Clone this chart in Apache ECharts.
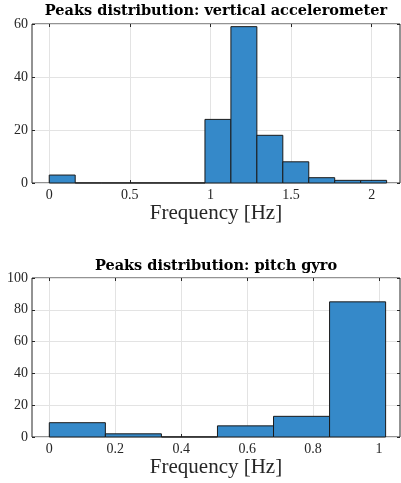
<!DOCTYPE html>
<html>
<head>
<meta charset="utf-8">
<script src="https://cdn.jsdelivr.net/npm/echarts@6/dist/echarts.min.js"></script>
<style>
  html, body { margin: 0; padding: 0; background: #fff; }
  #chart { width: 401px; height: 483px; }
</style>
</head>
<body>
<div id="chart"></div>
<script>
// vertical accelerometer histogram: bin edges and counts
const accelEdges = [0, 0.161, 0.322, 0.483, 0.644, 0.805, 0.966, 1.127, 1.288, 1.449, 1.61, 1.771, 1.932, 2.093];
const accelCounts = [3, 0, 0, 0, 0, 0, 24, 59, 18, 8, 2, 1, 1];
const accelTicks = [0, 0.5, 1, 1.5, 2];

// pitch gyro histogram
const gyroEdges = [0, 0.17, 0.34, 0.51, 0.68, 0.85, 1.02];
const gyroCounts = [9, 2, 0, 7, 13, 85];
const gyroTicks = [0, 0.2, 0.4, 0.6, 0.8, 1];

const titles = ['Peaks distribution: vertical accelerometer', 'Peaks distribution: pitch gyro'];
const xName = 'Frequency [Hz]';

function bins(edges, counts) {
  return counts.map((c, i) => [edges[i], edges[i + 1], c]);
}

function renderBar(params, api) {
  const top = api.coord([api.value(0), api.value(2)]);
  const bot = api.coord([api.value(1), 0]);
  return {
    type: 'rect',
    shape: { x: top[0], y: top[1], width: bot[0] - top[0], height: bot[1] - top[1] },
    style: { fill: '#3589c9', stroke: '#1a1a1a', lineWidth: 1 }
  };
}

const ink = '#262626';
const serif = 'Liberation Serif';

function bottomAxis(grid, min, max, ticks) {
  return {
    type: 'value', gridIndex: grid, position: 'bottom', min: min, max: max,
    axisLine: { show: false, onZero: false },
    axisTick: { show: true, inside: true, length: 3, customValues: ticks, lineStyle: { color: ink } },
    axisLabel: { customValues: ticks, margin: 5, color: ink, fontFamily: serif, fontSize: 14, formatter: v => String(v) },
    splitLine: { show: true, lineStyle: { color: '#e3e3e3', width: 1 } },
    name: xName, nameLocation: 'middle', nameGap: 20,
    nameTextStyle: { fontFamily: serif, fontSize: 21, color: ink }
  };
}
function topAxis(grid, min, max, ticks) {
  return {
    type: 'value', gridIndex: grid, position: 'top', min: min, max: max,
    axisLine: { show: false, onZero: false },
    axisTick: { show: true, inside: true, length: 3, customValues: ticks, lineStyle: { color: ink } },
    axisLabel: { show: false, customValues: ticks },
    splitLine: { show: false }
  };
}
function leftAxis(grid, max) {
  return {
    type: 'value', gridIndex: grid, position: 'left', min: 0, max: max, interval: 20,
    axisLine: { show: false, onZero: false },
    axisTick: { show: true, inside: true, length: 3, lineStyle: { color: ink } },
    axisLabel: { margin: 4, color: ink, fontFamily: serif, fontSize: 14 },
    splitLine: { show: true, lineStyle: { color: '#e3e3e3', width: 1 } }
  };
}
function rightAxis(grid, max) {
  return {
    type: 'value', gridIndex: grid, position: 'right', min: 0, max: max, interval: 20,
    axisLine: { show: false, onZero: false },
    axisTick: { show: true, inside: true, length: 3, lineStyle: { color: ink } },
    axisLabel: { show: false },
    splitLine: { show: false }
  };
}

const titleStyle = { fontFamily: 'DejaVu Serif', fontWeight: 'bold', fontSize: 14.5, color: '#000' };

const chart = echarts.init(document.getElementById('chart'));
chart.setOption({
  animation: false,
  backgroundColor: '#fff',
  title: [
    { text: titles[0], left: 216, top: 3.5, textAlign: 'center', padding: 0, textStyle: titleStyle },
    { text: titles[1], left: 216, top: 258.5, textAlign: 'center', padding: 0, textStyle: titleStyle }
  ],
  grid: [
    { left: 32, right: 1, top: 24, height: 159, show: true, borderColor: ink, borderWidth: 1,
      backgroundColor: 'transparent', outerBoundsMode: 'none' },
    { left: 32, right: 1, top: 278, height: 159, show: true, borderColor: ink, borderWidth: 1,
      backgroundColor: 'transparent', outerBoundsMode: 'none' }
  ],
  xAxis: [
    bottomAxis(0, -0.107, 2.176, accelTicks),
    topAxis(0, -0.107, 2.176, accelTicks),
    bottomAxis(1, -0.0525, 1.0636, gyroTicks),
    topAxis(1, -0.0525, 1.0636, gyroTicks)
  ],
  yAxis: [
    leftAxis(0, 60), rightAxis(0, 60),
    leftAxis(1, 100), rightAxis(1, 100)
  ],
  series: [
    { type: 'custom', xAxisIndex: 0, yAxisIndex: 0, renderItem: renderBar,
      encode: { x: [0, 1], y: 2 }, data: bins(accelEdges, accelCounts) },
    { type: 'custom', xAxisIndex: 2, yAxisIndex: 2, renderItem: renderBar,
      encode: { x: [0, 1], y: 2 }, data: bins(gyroEdges, gyroCounts) }
  ]
});
</script>
</body>
</html>
